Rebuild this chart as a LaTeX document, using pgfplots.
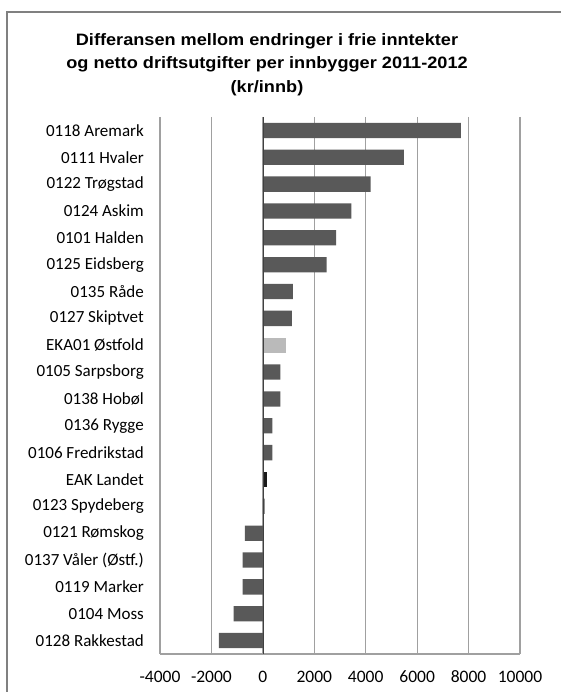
\documentclass[border=0pt]{standalone}
\usepackage{fontspec}
\setmainfont{Carlito}
\newfontfamily\titlefont{Liberation Sans}
\usepackage{pgfplots}
\pgfplotsset{compat=1.18}
\definecolor{bardark}{HTML}{595959}
\definecolor{barlight}{HTML}{BABABA}
\definecolor{barblack}{HTML}{1A1A1A}
\definecolor{gridc}{HTML}{A0A0A0}
\definecolor{framec}{HTML}{808080}
\begin{document}
\begin{tikzpicture}
\path[use as bounding box] (0pt,0pt) rectangle (561pt,692pt);
\draw[framec, line width=1.5pt] (7pt,0pt) -- (7pt,680pt) -- (561pt,680pt);
\node[inner sep=0pt] at (267pt,628pt)
  {\scalebox{1.1}[1]{\titlefont\bfseries\fontsize{16.5}{23.5}\selectfont\begin{tabular}{@{}c@{}}Differansen mellom endringer i frie inntekter\\og netto driftsutgifter per innbygger 2011-2012\\(kr/innb)\end{tabular}}};
\begin{axis}[
  at={(160pt,38pt)}, anchor=south west,
  width=360pt, height=537pt, scale only axis,
  xbar, bar width=15.3pt, bar shift=0pt,
  xmin=-4000, xmax=10000,
  ymin=-0.5, ymax=19.5, y dir=reverse,
  xtick={-4000,-2000,0,2000,4000,6000,8000,10000},
  xticklabels={-4000,-2000,0,2000,4000,6000,8000,10000},
  ytick={0,...,19},
  yticklabels={0118 Aremark,0111 Hvaler,0122 Trøgstad,0124 Askim,0101 Halden,0125 Eidsberg,0135 Råde,0127 Skiptvet,EKA01 Østfold,0105 Sarpsborg,0138 Hobøl,0136 Rygge,0106 Fredrikstad,EAK Landet,0123 Spydeberg,0121 Rømskog,0137 Våler (Østf.),0119 Marker,0104 Moss,0128 Rakkestad},
  major tick length=0pt,
  xmajorgrids, grid style={gridc, line width=1.2pt},
  axis line style={draw=none},
  yticklabel style={font=\fontsize{17}{18}\selectfont, anchor=east, inner sep=0pt, xshift=-16pt},
  xticklabel style={font=\fontsize{17.5}{18}\selectfont, anchor=center, inner sep=0pt, yshift=-23pt},
  clip=false,
]
\draw[gridc, line width=1.2pt] (axis cs:-4000,19.5) -- (axis cs:10000,19.5);
\addplot[fill=bardark, draw=none] coordinates {
(7700,0) (5480,1) (4190,2) (3440,3) (2850,4) (2480,5) (1170,6) (1130,7)
(680,9) (680,10) (370,11) (370,12) (70,14)
(-700,15) (-790,16) (-790,17) (-1140,18) (-1710,19)};
\addplot[fill=barlight, draw=none] coordinates {(890,8)};
\addplot[fill=barblack, draw=none] coordinates {(160,13)};
\draw[black!75, line width=0.6pt] (axis cs:0,-0.5) -- (axis cs:0,19.5);
\end{axis}
\end{tikzpicture}
\end{document}
